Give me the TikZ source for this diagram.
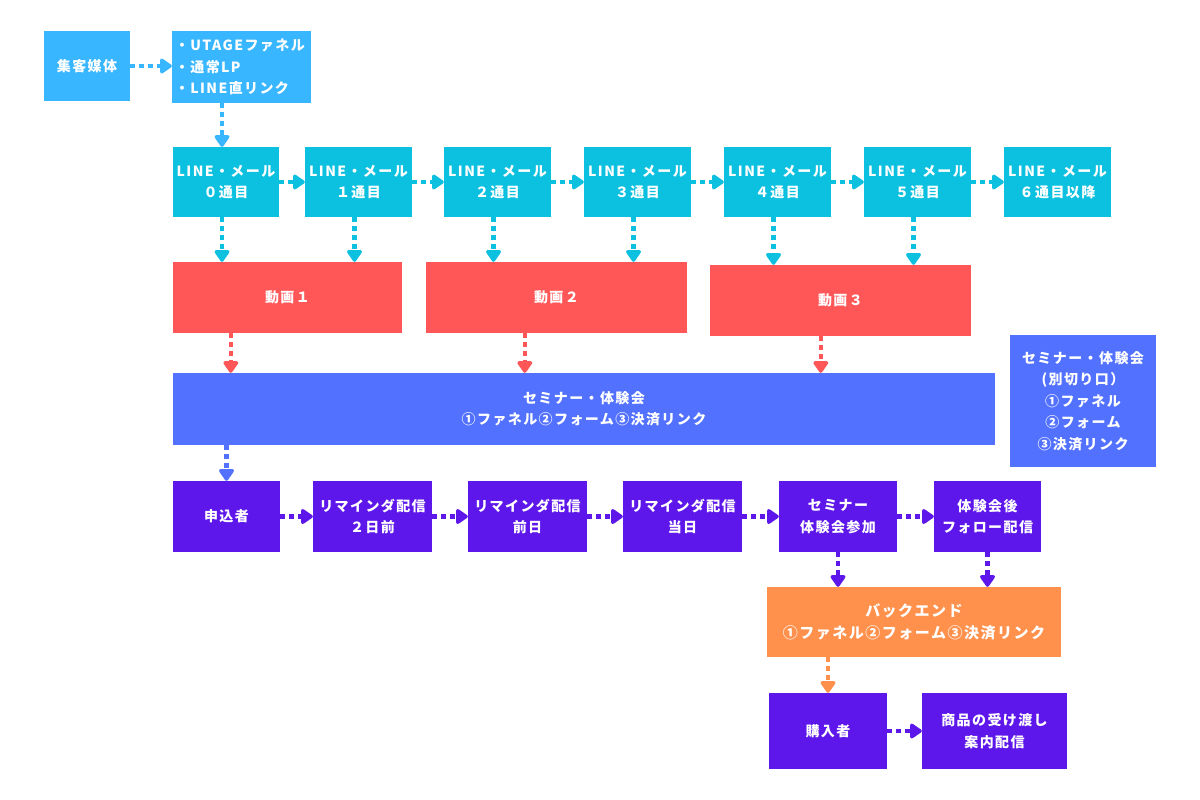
\documentclass[tikz,border=0pt]{standalone}
\usepackage{fontspec}
\setmainfont{Noto Sans CJK JP}[LetterSpace=10]
\usetikzlibrary{arrows.meta,calc}
\definecolor{cLB}{HTML}{38B6FF}
\definecolor{cCY}{HTML}{0CC0DF}
\definecolor{cRD}{HTML}{FF5757}
\definecolor{cBL}{HTML}{5271FF}
\definecolor{cPU}{HTML}{5E17EB}
\definecolor{cOR}{HTML}{FF914D}
\tikzset{
  box/.style={draw=none, inner sep=0pt, align=center, text=white,
    font=\bfseries\fontsize{14}{21.5}\selectfont},
  arr/.style={line width=4.5pt, dash pattern=on 5pt off 4pt,
    -{Triangle[length=13pt,width=17pt,round]}},
}
\begin{document}
\begin{tikzpicture}[x=1pt,y=-1pt]
\useasboundingbox (0,0) rectangle (1200,800);
% top
\node[box, fill=cLB, minimum width=86pt, minimum height=70pt] (src) at (87,66) {集客媒体};
\node[box, fill=cLB, minimum width=139pt, minimum height=72pt, align=left, text width=133pt, inner xsep=3pt] (bul) at (241.5,67) {・UTAGEファネル\\・通常LP\\・LINE直リンク};
% LINE row
\foreach \n/\x/\w/\t in {l0/226/106/０通目, l1/358.5/107/１通目, l2/497.5/107/２通目, l3/637.5/107/３通目, l4/777.5/107/４通目, l5/917.5/107/５通目, l6/1057.5/107/６通目以降}
  \node[box, fill=cCY, minimum width=\w pt, minimum height=70pt] (\n) at (\x,182) {LINE・メール\\\t};
% videos
\node[box, fill=cRD, minimum width=229pt, minimum height=71pt] (v1) at (287.5,297.5) {動画１};
\node[box, fill=cRD, minimum width=261pt, minimum height=71pt] (v2) at (556.5,297.5) {動画２};
\node[box, fill=cRD, minimum width=261pt, minimum height=71pt] (v3) at (840.5,300.5) {動画３};
% seminar
\node[box, fill=cBL, minimum width=822pt, minimum height=72pt] (sem) at (584,409) {セミナー・体験会\\①ファネル②フォーム③決済リンク};
\node[box, fill=cBL, minimum width=146pt, minimum height=132pt] (side) at (1083,401) {セミナー・体験会\\(別切り口）\\①ファネル\\②フォーム\\③決済リンク};
% purple row
\node[box, fill=cPU, minimum width=107pt, minimum height=71pt] (p0) at (226.5,516.5) {申込者};
\node[box, fill=cPU, minimum width=119pt, minimum height=71pt] (p1) at (372.5,516.5) {リマインダ配信\\２日前};
\node[box, fill=cPU, minimum width=119pt, minimum height=71pt] (p2) at (527.5,516.5) {リマインダ配信\\前日};
\node[box, fill=cPU, minimum width=119pt, minimum height=71pt] (p3) at (682.5,516.5) {リマインダ配信\\当日};
\node[box, fill=cPU, minimum width=118pt, minimum height=71pt] (p4) at (838,516.5) {セミナー\\体験会参加};
\node[box, fill=cPU, minimum width=107pt, minimum height=71pt] (p5) at (987.5,516.5) {体験会後\\フォロー配信};
% backend
\node[box, fill=cOR, minimum width=294pt, minimum height=70pt, font=\bfseries\fontsize{15}{22}\selectfont] (be) at (914,622) {バックエンド\\①ファネル②フォーム③決済リンク};
\node[box, fill=cPU, minimum width=118pt, minimum height=76pt] (buy) at (828,731) {購入者};
\node[box, fill=cPU, minimum width=145pt, minimum height=76pt] (del) at (994.5,731) {商品の受け渡し\\案内配信};
% arrow start points under the videos
\coordinate (r1) at ($(v1.south west)+(58,0)$);
\coordinate (r2) at ($(v2.south west)+(99,0)$);
\coordinate (r3) at ($(v3.south west)+(111,0)$);
% arrows
\draw[arr, cLB] (src.east) -- (bul.west |- src.east);
\draw[arr, cLB] ([xshift=-4pt]l0.north |- bul.south) -- ([xshift=-4pt]l0.north);
\foreach \a/\b in {l0/l1, l1/l2, l2/l3, l3/l4, l4/l5, l5/l6}
  \draw[arr, cCY] (\a.east) -- (\b.west);
\foreach \a/\b in {l0/v1, l1/v1, l2/v2, l3/v2, l4/v3, l5/v3}
  \draw[arr, cCY] ([xshift=-4pt]\a.south) -- ([xshift=-4pt]\a.south |- \b.north);
\foreach \r in {r1, r2, r3}
  \draw[arr, cRD] (\r) -- (\r |- sem.north);
\draw[arr, cBL] (p0.north |- sem.south) -- (p0.north);
\foreach \a/\b in {p0/p1, p1/p2, p2/p3, p3/p4, p4/p5}
  \draw[arr, cPU] (\a.east) -- (\b.west);
\draw[arr, cPU] (p4.south) -- (p4.south |- be.north);
\draw[arr, cPU] (p5.south) -- (p5.south |- be.north);
\draw[arr, cOR] (buy.north |- be.south) -- (buy.north);
\draw[arr, cPU] (buy.east) -- (del.west);
\end{tikzpicture}
\end{document}
